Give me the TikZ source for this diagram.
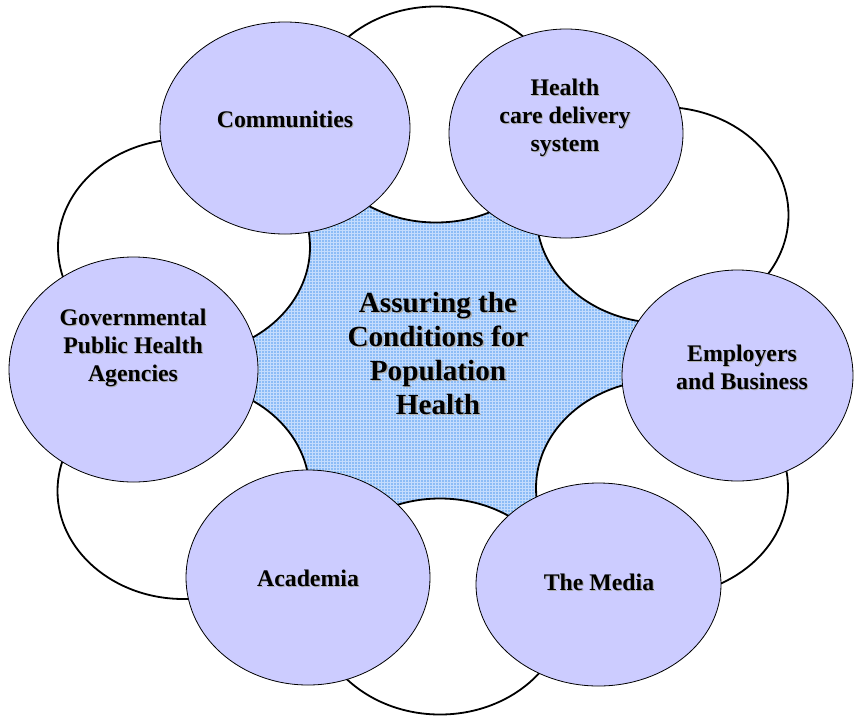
\documentclass[tikz,border=0pt]{standalone}
\usepackage{fontspec}
\setmainfont{Liberation Serif}
\usetikzlibrary{shapes.geometric,patterns}
\definecolor{lav}{RGB}{204,204,255}
\definecolor{gridbase}{RGB}{140,188,246}
\definecolor{gridline}{RGB}{196,220,253}
\definecolor{shadowgray}{RGB}{175,175,175}
\begin{document}
\begin{tikzpicture}[x=1pt,y=-1pt,
  whiteell/.style={ellipse, draw=black, line width=1.8pt, fill=white,
    minimum width=252pt, minimum height=216pt, inner sep=0pt},
  lavell/.style={ellipse, draw=black, line width=0.8pt, fill=lav, inner sep=0pt},
  lbl/.style={font=\fontsize{23.8}{28}\selectfont\bfseries, align=center, inner sep=0pt},
  lblshadow/.style={lbl, text=shadowgray},
  ctr/.style={font=\fontsize{29.2}{34}\selectfont\bfseries, align=center, inner sep=0pt},
  ctrshadow/.style={ctr, text=shadowgray}]
\useasboundingbox (0,0) rectangle (854,716);
\fill[white] (0,0) rectangle (854,716);
% coordinates of shape centres
\coordinate (cw1) at (436,114.5);
\coordinate (cw2) at (662.5,215);
\coordinate (cw3) at (662,488);
\coordinate (cw4) at (440,606.5);
\coordinate (cw5) at (183.5,491);
\coordinate (cw6) at (184,247);
\coordinate (ccomm) at (285,128);
\coordinate (chcd) at (566,133.5);
\coordinate (cemp) at (737.5,375.5);
\coordinate (cmedia) at (598.5,584.5);
\coordinate (cacad) at (308,577.5);
\coordinate (cgov) at (133.5,369.5);
% central hatched region
\path[preaction={fill=gridbase}, pattern=grid, pattern color=gridline]
  (cw1) -- (chcd) -- (cw2) -- (cemp) -- (cw3) -- (cmedia) -- (cw4)
  -- (cacad) -- (cw5) -- (cgov) -- (cw6) -- (ccomm) -- cycle;
% white ellipses
\node[whiteell] (w1) at (cw1) {};
\node[whiteell] (w2) at (cw2) {};
\node[whiteell] (w3) at (cw3) {};
\node[whiteell] (w4) at (cw4) {};
\node[whiteell] (w5) at (cw5) {};
\node[whiteell] (w6) at (cw6) {};
% lavender ellipses
\node[lavell, minimum width=250pt, minimum height=212pt] (comm) at (ccomm) {};
\node[lavell, minimum width=234pt, minimum height=209pt] (hcd) at (chcd) {};
\node[lavell, minimum width=231pt, minimum height=211pt] (emp) at (cemp) {};
\node[lavell, minimum width=245pt, minimum height=203pt] (media) at (cmedia) {};
\node[lavell, minimum width=244pt, minimum height=215pt] (acad) at (cacad) {};
\node[lavell, minimum width=249pt, minimum height=225pt] (gov) at (cgov) {};
% labels
\node[lblshadow] (commS) at (286,120) {Communities};
\node[lbl] (commT) at (285,119) {Communities};
\node[lblshadow] (hcdS) at (566,119) {Health\\care delivery\\system};
\node[lbl] (hcdT) at (565,118) {Health\\care delivery\\system};
\node[lblshadow] (govS) at (134,348.5) {Governmental\\Public Health\\Agencies};
\node[lbl] (govT) at (133,347.5) {Governmental\\Public Health\\Agencies};
\node[lblshadow] (empS) at (743,368.5) {Employers\\and Business};
\node[lbl] (empT) at (742,367.5) {Employers\\and Business};
\node[lblshadow] (acadS) at (309,579) {Academia};
\node[lbl] (acadT) at (308,578) {Academia};
\node[lblshadow] (mediaS) at (600,583.5) {The Media};
\node[lbl] (mediaT) at (599,582.5) {The Media};
\node[ctrshadow] (centerS) at (439.5,355) {Assuring the\\Conditions for\\Population\\Health};
\node[ctr] (centerT) at (438,353.5) {Assuring the\\Conditions for\\Population\\Health};
\end{tikzpicture}
\end{document}
